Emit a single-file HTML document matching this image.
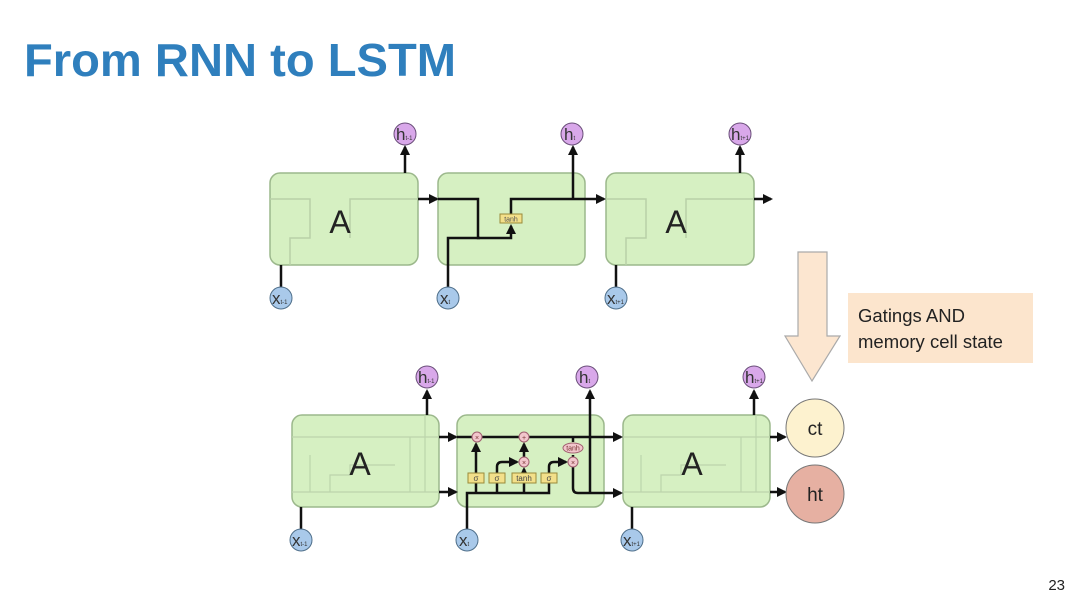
<!DOCTYPE html>
<html><head><meta charset="utf-8"><style>
html,body{margin:0;padding:0;background:#fff;}
svg{display:block;}
</style></head><body>
<svg width="1080" height="607" viewBox="0 0 1080 607" xmlns="http://www.w3.org/2000/svg" font-family="Liberation Sans, sans-serif">
<defs>
<marker id="ar" viewBox="0 0 10 10" refX="8" refY="5" markerWidth="4" markerHeight="4" orient="auto"><path d="M0,0L10,5L0,10z" fill="#111"/></marker>
</defs>
<rect width="1080" height="607" fill="#fff"/>
<text x="24" y="76" font-size="46" font-weight="bold" fill="#2f7fbd" textLength="432" lengthAdjust="spacingAndGlyphs">From RNN to LSTM</text>

<!-- top row -->
<g stroke="#9cb88c" stroke-width="1.5" fill="#d6f0c2">
<rect x="270" y="173" width="148" height="92" rx="10"/>
<rect x="438" y="173" width="147" height="92" rx="10"/>
<rect x="606" y="173" width="148" height="92" rx="10"/>
</g>
<g stroke="#b8d0a8" stroke-width="1.5" fill="none">
<path d="M270,199H310V238H290V265"/><path d="M418,199H350V238"/>
<path d="M606,199H646V238H626V265"/><path d="M754,199H686V238"/>
</g>
<text x="340" y="233" font-size="32" text-anchor="middle" fill="#222">A</text>
<text x="676" y="233" font-size="32" text-anchor="middle" fill="#222">A</text>
<g stroke="#111" stroke-width="2.5" fill="none" marker-end="url(#ar)">
<path d="M405,173V147"/><path d="M740,173V147"/><path d="M573,199V147"/>
<path d="M418,199H437"/><path d="M754,199H771"/>
<path d="M438,199H478V238H511V226"/>
<path d="M511,214V199H604"/>
</g>
<g stroke="#111" stroke-width="2.5" fill="none">
<path d="M281,287V265"/><path d="M448,287V238H480"/><path d="M616,287V265"/>
</g>
<rect x="500" y="214" width="22" height="9" fill="#f3e08a" stroke="#9a8a3a"/>
<text x="511" y="221.5" font-size="7" text-anchor="middle" fill="#555">tanh</text>
<g stroke="#6b4f7a" stroke-width="1" fill="#d9a8ea">
<circle cx="405" cy="134" r="11"/><circle cx="572" cy="134" r="11"/><circle cx="740" cy="134" r="11"/>
</g>
<g stroke="#4f6f8a" stroke-width="1" fill="#a9c9ea">
<circle cx="281" cy="298" r="11"/><circle cx="448" cy="298" r="11"/><circle cx="616" cy="298" r="11"/>
</g>
<g font-size="17" fill="#333">
<text x="396" y="140">h<tspan font-size="6">t-1</tspan></text><text x="564" y="140">h<tspan font-size="6">t</tspan></text><text x="731" y="140">h<tspan font-size="6">t+1</tspan></text>
<text x="272" y="304">x<tspan font-size="6">t-1</tspan></text><text x="440" y="304">x<tspan font-size="6">t</tspan></text><text x="607" y="304">x<tspan font-size="6">t+1</tspan></text>
</g>

<!-- arrow + label -->
<path d="M798,252H827V336H840L812,381L785,336H798Z" fill="#fce6d0" stroke="#aaa" stroke-width="1.2"/>
<rect x="848" y="293" width="185" height="70" fill="#fce5cd"/>
<text x="858" y="322" font-size="18.5" fill="#222">Gatings AND</text>
<text x="858" y="348" font-size="18.5" fill="#222">memory cell state</text>

<!-- bottom row -->
<g stroke="#9cb88c" stroke-width="1.5" fill="#d6f0c2">
<rect x="292" y="415" width="147" height="92" rx="10"/>
<rect x="457" y="415" width="147" height="92" rx="10"/>
<rect x="623" y="415" width="147" height="92" rx="10"/>
</g>
<g stroke="#bcd4ac" stroke-width="1.2" fill="none">
<path d="M292,437H439"/><path d="M292,492H439"/><path d="M310,492V455"/><path d="M330,492V475H350V465H395"/><path d="M410,437V492"/><path d="M425,415V492"/>
<path d="M623,437H770"/><path d="M623,492H770"/><path d="M641,492V455"/><path d="M661,492V475H681V465H726"/><path d="M741,437V492"/><path d="M756,415V492"/>
</g>
<text x="360" y="475" font-size="32" text-anchor="middle" fill="#222">A</text>
<text x="692" y="475" font-size="32" text-anchor="middle" fill="#222">A</text>
<g stroke="#111" stroke-width="2.5" fill="none" marker-end="url(#ar)">
<path d="M427,415V391"/><path d="M754,415V391"/><path d="M590,410V391"/>
<path d="M439,437H456"/><path d="M439,492H456"/>
<path d="M604,437H621"/><path d="M604,493H621"/>
<path d="M770,437H785"/><path d="M770,492H785"/>
<path d="M476,474V444"/><path d="M497,474V467Q497,462 502,462H517"/>
<path d="M524,474V469"/><path d="M524,457V444"/>
<path d="M549,474V467Q549,462 554,462H566"/>
</g>
<g stroke="#111" stroke-width="2.5" fill="none">
<path d="M457,437H604"/><path d="M467,529V493H549V483"/>
<path d="M476,493V483"/><path d="M497,493V483"/><path d="M524,493V483"/>
<path d="M573,437V442"/><path d="M573,455V488Q573,493 578,493H604"/>
<path d="M590,410V493"/>
<path d="M301,529V507"/><path d="M632,529V507"/>
</g>
<g stroke="#a06070" stroke-width="1" fill="#f2c6cc">
<circle cx="477" cy="437" r="5"/><circle cx="524" cy="437" r="5"/><circle cx="524" cy="462" r="5"/><circle cx="573" cy="462" r="5"/>
<ellipse cx="573" cy="448" rx="10" ry="5"/>
</g>
<g font-size="7" fill="#733" text-anchor="middle">
<text x="477" y="440">×</text><text x="524" y="440">+</text><text x="524" y="465">×</text><text x="573" y="465">×</text><text x="573" y="450.5">tanh</text>
</g>
<g fill="#f3e08a" stroke="#9a8a3a">
<rect x="468" y="473" width="16" height="10"/><rect x="489" y="473" width="16" height="10"/><rect x="512" y="473" width="24" height="10"/><rect x="541" y="473" width="16" height="10"/>
</g>
<g font-size="8" fill="#444" text-anchor="middle">
<text x="476" y="481">σ</text><text x="497" y="481">σ</text><text x="524" y="481">tanh</text><text x="549" y="481">σ</text>
</g>
<g stroke="#6b4f7a" stroke-width="1" fill="#d9a8ea">
<circle cx="427" cy="377" r="11"/><circle cx="587" cy="377" r="11"/><circle cx="754" cy="377" r="11"/>
</g>
<g stroke="#4f6f8a" stroke-width="1" fill="#a9c9ea">
<circle cx="301" cy="540" r="11"/><circle cx="467" cy="540" r="11"/><circle cx="632" cy="540" r="11"/>
</g>
<g font-size="17" fill="#333">
<text x="418" y="383">h<tspan font-size="6">t-1</tspan></text><text x="579" y="383">h<tspan font-size="6">t</tspan></text><text x="745" y="383">h<tspan font-size="6">t+1</tspan></text>
<text x="292" y="546">x<tspan font-size="6">t-1</tspan></text><text x="459" y="546">x<tspan font-size="6">t</tspan></text><text x="623" y="546">x<tspan font-size="6">t+1</tspan></text>
</g>
<circle cx="815" cy="428" r="29" fill="#fdf2cf" stroke="#777" stroke-width="1"/>
<circle cx="815" cy="494" r="29" fill="#e6b0a2" stroke="#777" stroke-width="1"/>
<text x="815" y="435" font-size="19" text-anchor="middle" fill="#222">ct</text>
<text x="815" y="501" font-size="19" text-anchor="middle" fill="#222">ht</text>

<text x="1065" y="590" font-size="15" text-anchor="end" fill="#222">23</text>
</svg>
</body></html>
